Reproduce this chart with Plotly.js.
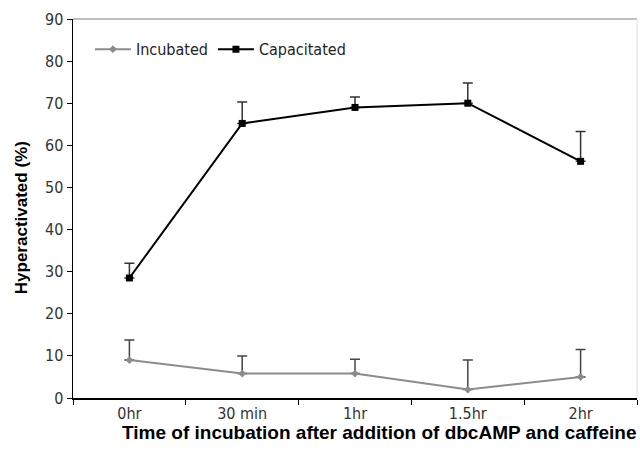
<!DOCTYPE html>
<html>
<head>
<meta charset="utf-8">
<script src="https://cdn.plot.ly/plotly-3.0.1.min.js"></script>
<style>html,body{margin:0;padding:0;background:#fff;}#chart{width:640px;height:461px;}</style>
</head>
<body>
<div id="chart"></div>
<script>
const categories = ["0hr", "30 min", "1hr", "1.5hr", "2hr"];
const incubated = [9.0, 5.8, 5.8, 2.0, 5.0];
const incubatedErr = [4.8, 4.2, 3.4, 7.0, 6.5];
const capacitated = [28.5, 65.2, 69.0, 70.0, 56.2];
const capacitatedErr = [3.5, 5.1, 2.5, 4.8, 7.1];
const xTitle = "Time of incubation after addition of dbcAMP and caffeine";
const yTitle = "Hyperactivated (%)";

const narrow = '"DejaVu Sans Condensed", "Liberation Sans Narrow", "Arial Narrow", sans-serif';
const bold = '"Liberation Sans", Arial, sans-serif';

const traces = [
  {
    x: categories, y: incubated, name: "Incubated", type: "scatter", mode: "lines+markers",
    line: {color: "#8c8c8c", width: 2},
    marker: {symbol: "diamond", size: 6, color: "#8c8c8c"},
    error_y: {type: "data", array: incubatedErr, arrayminus: [0,0,0,0,0], symmetric: false,
              color: "#444", thickness: 1.5, width: 5}
  },
  {
    x: categories, y: capacitated, name: "Capacitated", type: "scatter", mode: "lines+markers",
    line: {color: "#000", width: 2},
    marker: {symbol: "square", size: 7, color: "#000"},
    error_y: {type: "data", array: capacitatedErr, arrayminus: [0,0,0,0,0], symmetric: false,
              color: "#333", thickness: 1.5, width: 5}
  }
];

const layout = {
  width: 640, height: 461,
  margin: {l: 73, r: 3, t: 19, b: 63},
  paper_bgcolor: "#fff", plot_bgcolor: "#fff",
  showlegend: true,
  legend: {orientation: "h", x: 0.03, y: 0.92, xanchor: "left", yanchor: "middle",
           font: {family: narrow, size: 16, color: "#222"}, bgcolor: "rgba(0,0,0,0)",
           itemwidth: 36, tracegroupgap: 0},
  xaxis: {
    type: "category", range: [-0.5, 4.5],
    showline: true, linecolor: "#000", linewidth: 1.5, mirror: false,
    ticks: "outside", ticklen: 5, tickcolor: "#000", tickson: "boundaries",
    showgrid: false, zeroline: false,
    tickfont: {family: narrow, size: 16, color: "#333"}
  },
  yaxis: {
    range: [0, 90], dtick: 10,
    showline: true, linecolor: "#000", linewidth: 1.5,
    ticks: "outside", ticklen: 5, tickcolor: "#000",
    showgrid: false, zeroline: false,
    tickfont: {family: narrow, size: 16, color: "#333"}
  },
  annotations: [
    {text: "<b>" + xTitle + "</b>", xref: "paper", yref: "paper", x: 0.543, y: -0.09,
     xanchor: "center", yanchor: "middle", showarrow: false,
     font: {family: bold, size: 19, color: "#000"}},
    {text: "<b>" + yTitle + "</b>", xref: "paper", yref: "paper", x: -0.09, y: 0.475,
     xanchor: "center", yanchor: "middle", showarrow: false, textangle: -90,
     font: {family: bold, size: 17, color: "#000"}}
  ],
  shapes: [
    {type: "line", xref: "paper", yref: "paper", x0: 0, x1: 1, y0: 1, y1: 1, line: {color: "#aaa", width: 1.5}},
    {type: "line", xref: "paper", yref: "paper", x0: 1, x1: 1, y0: 0, y1: 1, line: {color: "#ddd", width: 1}}
  ]
};

Plotly.newPlot("chart", traces, layout, {staticPlot: true, displayModeBar: false});
</script>
</body>
</html>
